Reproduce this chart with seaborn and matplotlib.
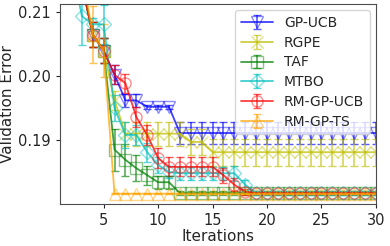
import matplotlib
matplotlib.use("Agg")
import matplotlib.pyplot as plt
from matplotlib.colors import to_rgba
import pandas as pd
import seaborn as sns

iterations = list(range(1, 31))

gp_ucb = [0.235, 0.225, 0.2145, 0.2065, 0.204, 0.2002, 0.1962, 0.1962, 0.1952, 0.1952,
          0.1952, 0.1911] + [0.1911] * 18
gp_ucb_err = [0.002] * 5 + [0.0015, 0.001, 0.001, 0.0003, 0.0003, 0.0003] + [0.0017] * 19

rgpe = [0.235, 0.225, 0.2145, 0.2065, 0.204, 0.1962] + [0.191] * 6 + [0.1897, 0.1897] + [0.1881] * 16
rgpe_err = [0.002] * 5 + [0.0015] + [0.0019] * 6 + [0.002, 0.002] + [0.0021] * 16

taf = [0.235, 0.225, 0.2145, 0.2065, 0.204, 0.1885, 0.1869, 0.1856, 0.1845, 0.1834,
       0.1834] + [0.1817] * 19
taf_err = [0.002] * 5 + [0.0033, 0.0025, 0.002, 0.0015, 0.001, 0.001] + [0.0003] * 19

mtbo = [0.23, 0.218, 0.2094, 0.2081, 0.2081, 0.195, 0.1908, 0.1908, 0.1881, 0.1861,
        0.185, 0.1848, 0.1848, 0.1848, 0.1848, 0.1848, 0.1848, 0.183] + [0.1817] * 12
mtbo_err = [0.004, 0.004, 0.0045, 0.001, 0.003, 0.002, 0.002, 0.0015, 0.0015, 0.0012] + \
           [0.001] * 6 + [0.0012, 0.0008] + [0.0003] * 12

rm_gp_ucb = [0.235, 0.225, 0.2145, 0.2065, 0.204, 0.2002, 0.1989, 0.1936, 0.1908, 0.1872] + \
            [0.1858] * 5 + [0.1845, 0.183, 0.1819] + [0.1817] * 12
rm_gp_ucb_err = [0.002] * 5 + [0.0015] * 10 + [0.0012, 0.001, 0.0005] + [0.0002] * 12

rm_gp_ts = [0.24, 0.23, 0.2165, 0.2065, 0.204] + [0.1816] * 25
rm_gp_ts_err = [0.004, 0.004, 0.004, 0.0045, 0.0042] + [0.0001] * 25

names = ["GP-UCB", "RGPE", "TAF", "MTBO", "RM-GP-UCB", "RM-GP-TS"]
means = [gp_ucb, rgpe, taf, mtbo, rm_gp_ucb, rm_gp_ts]
errs = [gp_ucb_err, rgpe_err, taf_err, mtbo_err, rm_gp_ucb_err, rm_gp_ts_err]
colors = ["b", "y", "g", "c", "r", "orange"]
markers = ["v", "x", "s", "D", "o", "^"]

df = pd.concat([
    pd.DataFrame({"iteration": iterations, "error": m, "std": e, "method": n})
    for n, m, e in zip(names, means, errs)
])

sns.set_style("ticks")
fig, ax = plt.subplots(figsize=(3.9, 2.46), dpi=100)
fig.subplots_adjust(left=0.154, right=0.964, top=0.984, bottom=0.171)

for n, c, mk in zip(names, colors, markers):
    d = df[df["method"] == n]
    ax.errorbar(d["iteration"], d["error"], yerr=d["std"],
                color=to_rgba(c, 0.75), ecolor=to_rgba(c, 0.65),
                marker=mk, markersize=8 if mk != "D" else 7,
                mfc="none", mec=to_rgba(c, 0.45), mew=1.0,
                capsize=3, lw=1.3, elinewidth=1.2, label=n)

ax.set_xlim(1, 30)
ax.set_ylim(0.18, 0.2113)
ax.set_xticks([5, 10, 15, 20, 25, 30])
ax.set_yticks([0.19, 0.20, 0.21])
ax.set_yticklabels(["0.19", "0.20", "0.21"])
ax.tick_params(labelsize=10.5, length=3)
ax.set_xlabel("Iterations", fontsize=11, labelpad=1)
ax.set_ylabel("Validation Error", fontsize=11, labelpad=2)
ax.legend(loc="upper right", fontsize=10, borderaxespad=0.45, handlelength=2.3,
          labelspacing=0.42)
for s in ax.spines.values():
    s.set_color("0.3")

fig.savefig("out.png", dpi=100)
